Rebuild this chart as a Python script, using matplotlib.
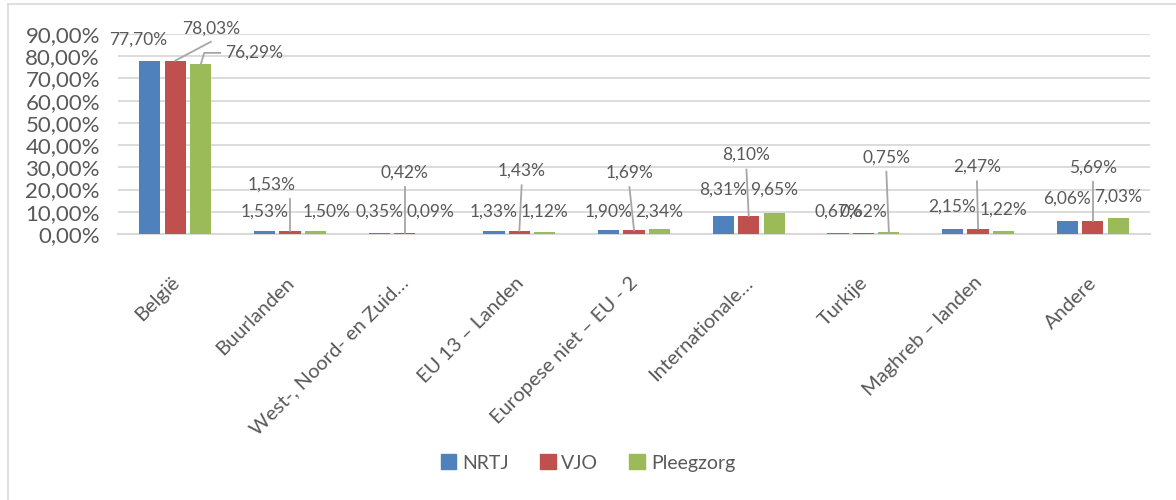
import numpy as np
import matplotlib.pyplot as plt
from matplotlib.patches import Patch

categories = ["België", "Buurlanden", "West-, Noord- en Zuid…", "EU 13 – Landen",
              "Europese niet – EU - 2", "Internationale…", "Turkije",
              "Maghreb – landen", "Andere"]
nrtj = [77.70, 1.53, 0.35, 1.33, 1.90, 8.31, 0.67, 2.15, 6.06]
vjo = [78.03, 1.53, 0.42, 1.43, 1.69, 8.10, 0.62, 2.47, 5.69]
pleeg = [76.29, 1.50, 0.09, 1.12, 2.34, 9.65, 0.75, 1.22, 7.03]
series_names = ["NRTJ", "VJO", "Pleegzorg"]

colors = ["#4F81BD", "#C0504D", "#9BBB59"]
txt = "#595959"
grid = "#D9D9D9"
lead = "#A6A6A6"
plt.rcParams['font.family'] = ['Lato', 'DejaVu Sans']


def fmt(v):
    return "{:.2f}%".format(v).replace(".", ",")


fig = plt.figure(figsize=(11.76, 5), dpi=100)
ax = fig.add_axes([0.1003, 0.532, 0.8777, 0.400])

x = np.arange(len(categories))
w = 0.185
off = 0.222
series = [nrtj, vjo, pleeg]
for i, (vals, c) in enumerate(zip(series, colors)):
    ax.bar(x + (i - 1) * off, vals, w, color=c, zorder=3)

ax.set_xlim(-0.5, len(categories) - 0.5)
ax.set_ylim(0, 90)
ax.set_yticks(np.arange(0, 91, 10))
ax.set_yticklabels([fmt(v) for v in np.arange(0, 91, 10)], fontsize=16, color=txt)
ax.yaxis.grid(True, color=grid, lw=1.3, zorder=0)
ax.tick_params(axis="y", length=0, pad=13)
ax.tick_params(axis="x", length=0)
for s in ["top", "right", "left"]:
    ax.spines[s].set_visible(False)
ax.spines["bottom"].set_color(grid)
ax.spines["bottom"].set_linewidth(1.5)
ax.set_xticks(x)
ax.set_xticklabels([])

for xi, lab in zip(x, categories):
    ax.annotate(lab, (xi, 0), xytext=(1, -33), textcoords="offset points",
                rotation=45, rotation_mode="anchor", ha="right", va="center",
                fontsize=14.5, color=txt, annotation_clip=False)

fs = 12.5
# labels placed above their own bars (NRTJ, Pleegzorg; Turkije VJO too)
side_y = [87.5, 10, 10, 10, 10, 20, 10, 12.2, 16]
side_y_p = [None, 10, 10, 10, 10, 20, None, 10.8, 17]
nrtj_dx = [-0.1, 0, 0, 0, 0, 0, 0, 0, 0]
pleeg_dx = [0, 0.1, 0, 0, 0, 0, 0, 0, 0]
for i in range(len(categories)):
    ax.text(x[i] - off + nrtj_dx[i], side_y[i], fmt(nrtj[i]), ha="center",
            va="center", fontsize=fs, color=txt)
    if side_y_p[i] is not None:
        ax.text(x[i] + off + pleeg_dx[i], side_y_p[i], fmt(pleeg[i]), ha="center",
                va="center", fontsize=fs, color=txt)
ax.text(x[6], 10, fmt(vjo[6]), ha="center", va="center", fontsize=fs, color=txt)

# labels lifted up with leader lines: (series index, text dx, text y)
lifted = [(1, 0.31, 92.5), (1, -0.16, 22.2), (1, 0.0, 27.6), (1, 0.02, 28.4),
          (1, -0.04, 27.6), (1, -0.02, 35.5), (2, 0.2, 34.5), (1, -0.01, 30.2),
          (1, 0.0, 29.7)]
for i, (s, dx, ty) in enumerate(lifted):
    val = series[s][i]
    bx = x[i] + (s - 1) * off
    tx = x[i] + dx
    ax.text(tx, ty, fmt(val), ha="center", va="center", fontsize=fs, color=txt,
            clip_on=False)
    if i == 0:
        ax.plot([bx, tx], [val, ty - 6], color=lead, lw=1.3, zorder=4, clip_on=False)
    elif i == 1:
        ax.plot([bx, bx], [val, ty - 6.5], color=lead, lw=1.3, zorder=4)
    else:
        ax.plot([bx, tx], [val, ty - 6.5], color=lead, lw=1.3, zorder=4)

# België Pleegzorg label with elbow leader
ax.text(x[0] + 0.69, 81.5, fmt(pleeg[0]), ha="center", va="center", fontsize=fs,
        color=txt)
ax.plot([x[0] + off, x[0] + off + 0.03, x[0] + off + 0.17],
        [pleeg[0], 81.5, 81.5], color=lead, lw=1.3, zorder=4)

handles = [Patch(color=c) for c in colors]
fig.legend(handles, series_names, loc="center", bbox_to_anchor=(0.5, 0.074), ncol=3,
           frameon=False, fontsize=14, labelcolor=txt, handlelength=0.8,
           handleheight=0.8, handletextpad=0.3, columnspacing=1.6)

fig.add_artist(plt.Line2D([8 / 1176, 8 / 1176], [0, 1 - 4 / 500], color=grid, lw=1.2))
fig.add_artist(plt.Line2D([8 / 1176, 1], [1 - 4 / 500, 1 - 4 / 500], color=grid, lw=1.2))

fig.savefig("out.png", dpi=100)
